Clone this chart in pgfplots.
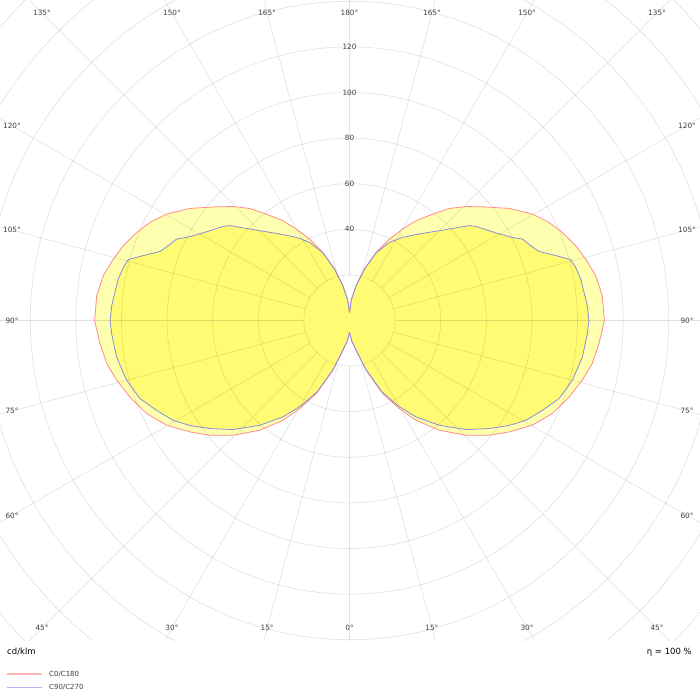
\documentclass[border=0pt]{standalone}
\usepackage{fontspec}
\setmainfont{DejaVu Sans}
\usepackage{pgfplots}
\pgfplotsset{compat=1.18}
\usepackage{pgfplotstable}
\definecolor{lcol}{HTML}{FF8A8A}
\definecolor{bcol}{HTML}{8C8CDC}
\definecolor{lcolL}{HTML}{FFB4B4}
\definecolor{bcolL}{HTML}{B4B4F0}
\definecolor{fillA}{HTML}{FFFFB0}
\definecolor{fillB}{HTML}{FFFC73}
\definecolor{labc}{HTML}{404040}

% gamma (deg)  intensity (cd/klm), C0/C180
\pgfplotstableread{
g I
0 5.1
6 9.0
12.6 13.5
18.5 23.1
24.4 35.2
29.5 44.4
33.7 52.6
39.3 62.2
45.4 71.7
50.6 79.3
55.1 85.4
60.2 92.4
65.4 97.9
70.8 102.0
75.6 105.4
79.9 108.1
84.7 109.9
90 111.8
95.6 111.4
100.3 109.8
104.6 107.0
108.3 104.5
112.5 101.0
116.2 97.5
120.2 92.8
125.1 85.5
130.5 76.8
134.5 71.3
138.3 65.8
142.0 59.2
146.3 52.6
149.8 46.4
153.9 39.8
158.6 32.1
163.8 23.6
169.2 15.6
175 9.0
180 3.6
}\czero

% C90/C270
\pgfplotstableread{
g I
0 5.1
6 9.0
12.6 13.3
18.5 22.6
24.4 34.3
29.5 42.8
34.6 51.4
40.6 60.5
46.9 70.0
52.3 77.5
56.7 83.8
60.5 88.9
65.0 93.3
69.6 98.1
75.0 101.2
81.1 103.4
86.8 104.5
90 105.0
93.6 104.5
96.9 103.6
100.2 103.0
103.2 101.9
105.4 100.6
107.5 94.8
110.0 88.5
112.4 86.0
115.2 83.9
117.0 80.2
120.9 74.8
126.7 69.1
128.4 67.0
132.5 59.4
135 55.7
141.1 48.8
147.4 43.3
152.9 38.5
158.6 31.8
163.8 23.4
169.2 15.5
175 9.0
180 3.6
}\cninety

\begin{document}
\begin{tikzpicture}
\path[use as bounding box] (0,0) rectangle (700pt,-700pt);
\begin{axis}[
  at={(0,0)}, anchor=north west,
  scale only axis, width=700pt, height=640pt,
  xmin=-153.29, xmax=153.73, ymin=-140.13, ymax=140.57,
  hide axis, clip=true,
]
% filled lobes
\addplot[draw=none, fill=fillA] table[x expr={\thisrow{I}*sin(\thisrow{g})}, y expr={-\thisrow{I}*cos(\thisrow{g})}] {\czero};
\addplot[draw=none, fill=fillA] table[x expr={-\thisrow{I}*sin(\thisrow{g})}, y expr={-\thisrow{I}*cos(\thisrow{g})}] {\czero};
\addplot[draw=none, fill=fillB] table[x expr={\thisrow{I}*sin(\thisrow{g})}, y expr={-\thisrow{I}*cos(\thisrow{g})}] {\cninety};
\addplot[draw=none, fill=fillB] table[x expr={-\thisrow{I}*sin(\thisrow{g})}, y expr={-\thisrow{I}*cos(\thisrow{g})}] {\cninety};
% grid
\pgfplotsinvokeforeach{20,40,...,220}{\draw[black, opacity=0.12, line width=0.6pt] (axis cs:0,0) circle[radius=#1];}
\pgfplotsinvokeforeach{0,15,...,345}{\draw[black, opacity=0.12, line width=0.6pt] (axis cs:{20*cos(#1)},{20*sin(#1)}) -- (axis cs:{260*cos(#1)},{260*sin(#1)});}
% outlines
\addplot[lcol, line width=0.8pt] table[x expr={\thisrow{I}*sin(\thisrow{g})}, y expr={-\thisrow{I}*cos(\thisrow{g})}] {\czero};
\addplot[lcol, line width=0.8pt] table[x expr={-\thisrow{I}*sin(\thisrow{g})}, y expr={-\thisrow{I}*cos(\thisrow{g})}] {\czero};
\addplot[bcol, line width=0.8pt] table[x expr={\thisrow{I}*sin(\thisrow{g})}, y expr={-\thisrow{I}*cos(\thisrow{g})}] {\cninety};
\addplot[bcol, line width=0.8pt] table[x expr={-\thisrow{I}*sin(\thisrow{g})}, y expr={-\thisrow{I}*cos(\thisrow{g})}] {\cninety};
% radial value labels
\begin{scope}[every node/.style={font=\fontsize{7.3}{8}\selectfont, text=labc, inner sep=0pt}]
\node at (axis cs:0,40) {40};
\node at (axis cs:0,60) {60};
\node at (axis cs:0,80) {80};
\node at (axis cs:0,100) {100};
\node at (axis cs:0,120) {120};
% angle labels
\node at (axis cs:-134.87,134.87) {135°};
\node at (axis cs:-77.87,134.87) {150°};
\node at (axis cs:-36.14,134.87) {165°};
\node at (axis cs:0,134.87) {180°};
\node at (axis cs:36.14,134.87) {165°};
\node at (axis cs:77.87,134.87) {150°};
\node at (axis cs:134.87,134.87) {135°};
\node at (axis cs:-148.03,85.46) {120°};
\node at (axis cs:-148.03,39.66) {105°};
\node at (axis cs:-148.03,0) {90°};
\node at (axis cs:-148.03,-39.66) {75°};
\node at (axis cs:-148.03,-85.46) {60°};
\node at (axis cs:148.03,85.46) {120°};
\node at (axis cs:148.03,39.66) {105°};
\node at (axis cs:148.03,0) {90°};
\node at (axis cs:148.03,-39.66) {75°};
\node at (axis cs:148.03,-85.46) {60°};
\node at (axis cs:-134.87,-134.87) {45°};
\node at (axis cs:-77.87,-134.87) {30°};
\node at (axis cs:-36.14,-134.87) {15°};
\node at (axis cs:0,-134.87) {0°};
\node at (axis cs:36.14,-134.87) {15°};
\node at (axis cs:77.87,-134.87) {30°};
\node at (axis cs:134.87,-134.87) {45°};
\end{scope}
\end{axis}
\node[anchor=west, inner sep=0pt, font=\fontsize{8.5}{9}\selectfont] at (7pt,-652pt) {cd/klm};
\node[anchor=east, inner sep=0pt, font=\fontsize{8.5}{9}\selectfont] at (692pt,-652pt) {η = 100 \%};
% legend
\draw[lcolL, line width=1.2pt] (7pt,-674pt) -- (42pt,-674pt);
\draw[bcolL, line width=1.2pt] (7pt,-687.3pt) -- (42pt,-687.3pt);
\node[anchor=west, inner sep=0pt, font=\fontsize{7}{8}\selectfont, text=labc] at (49pt,-674pt) {C0/C180};
\node[anchor=west, inner sep=0pt, font=\fontsize{7}{8}\selectfont, text=labc] at (49pt,-687.3pt) {C90/C270};
\end{tikzpicture}
\end{document}
